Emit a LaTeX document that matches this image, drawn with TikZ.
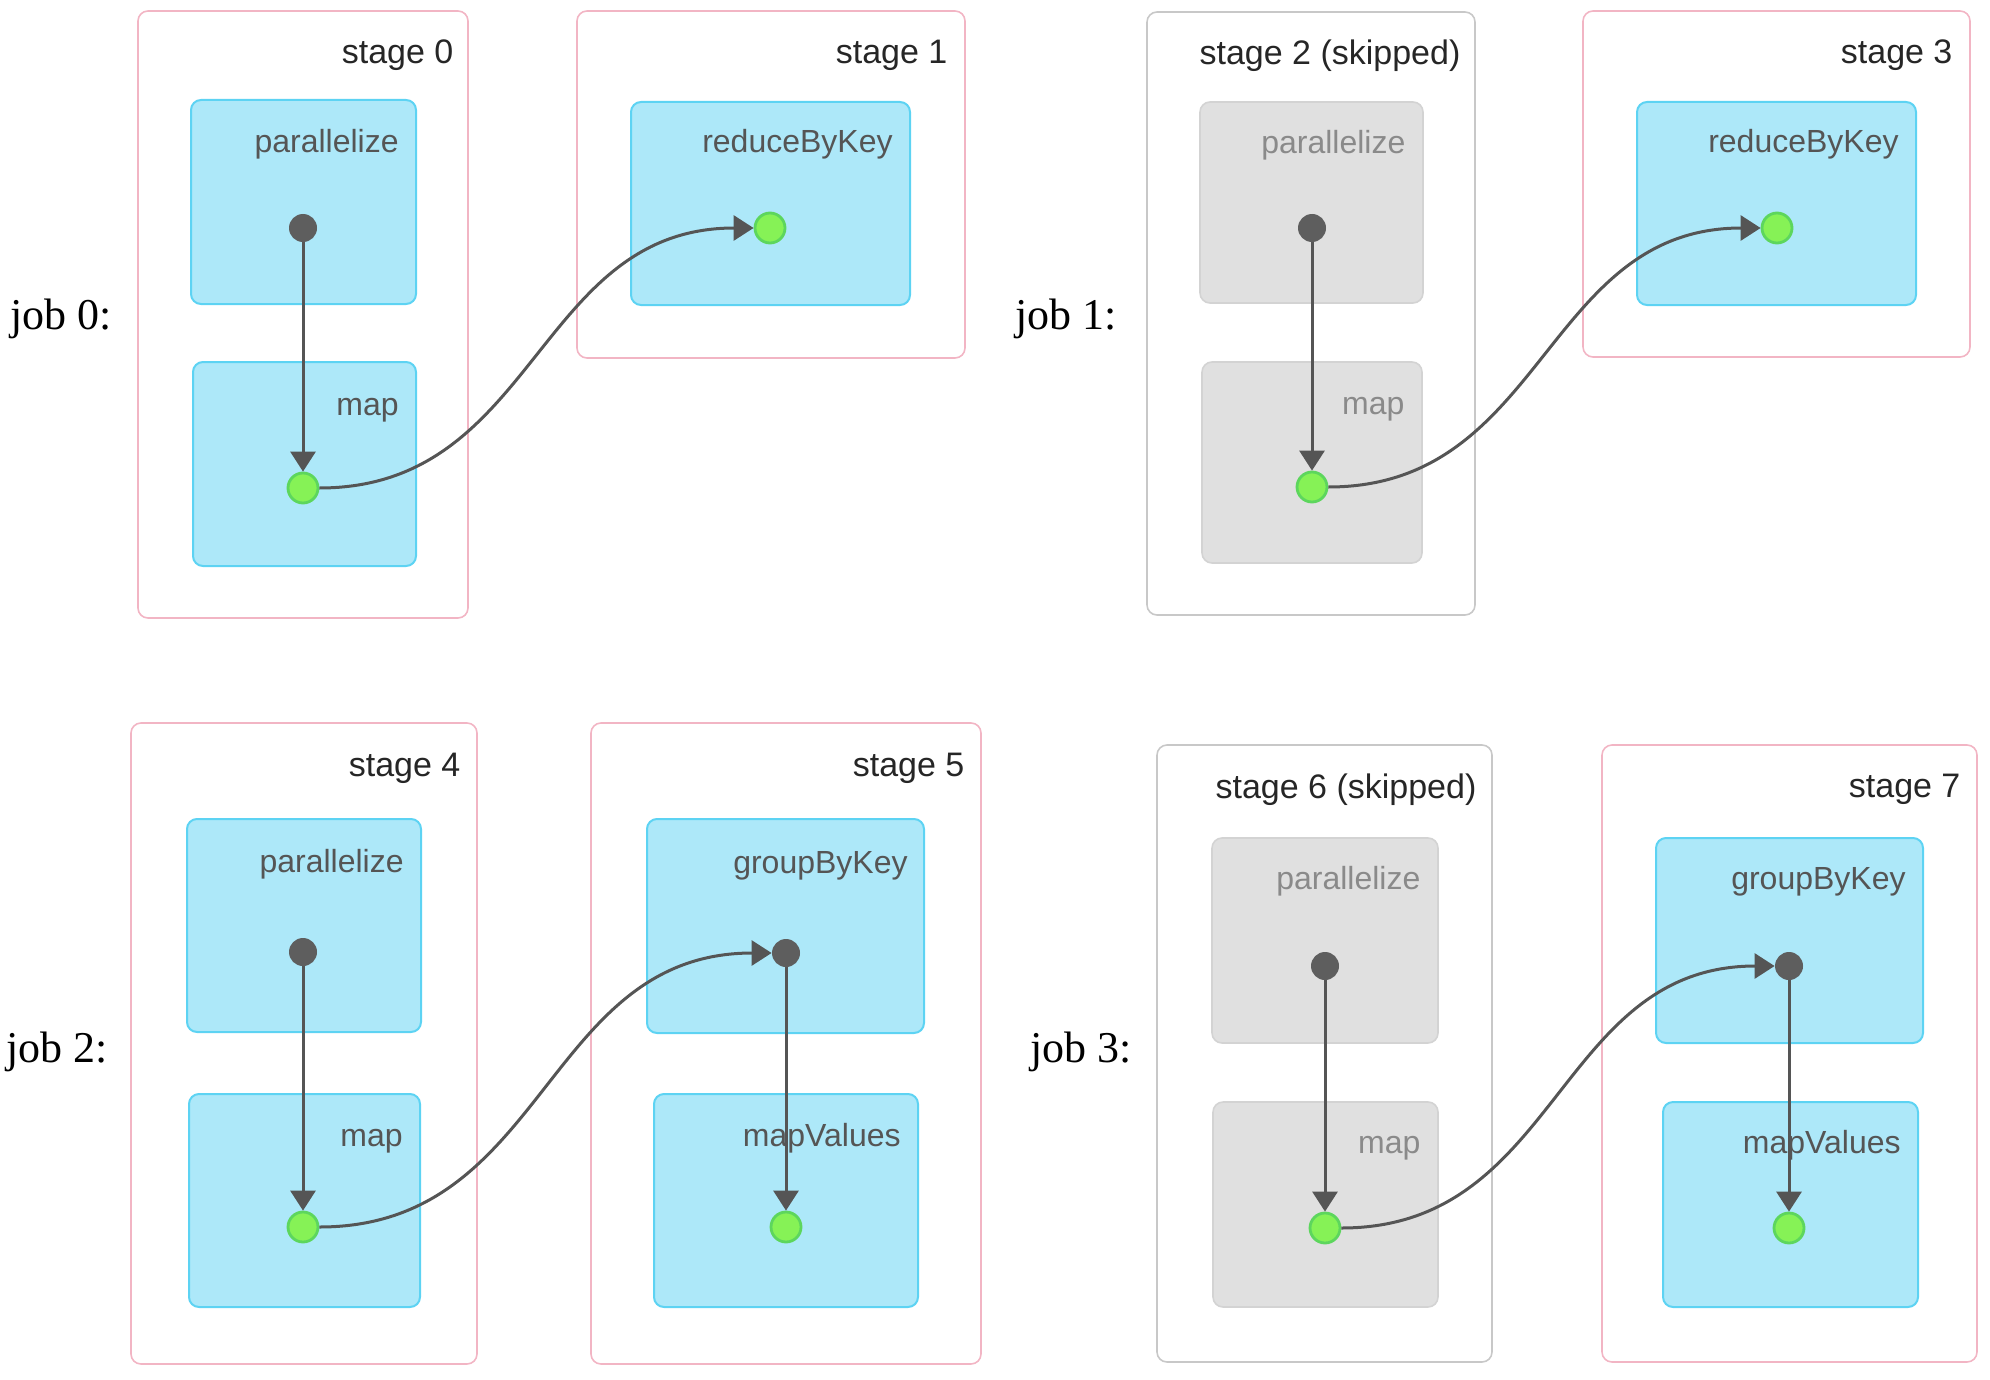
\documentclass[tikz,border=0pt]{standalone}
\usepackage{fontspec}
\setmainfont{Liberation Serif}
\newfontfamily\arialfont{Liberation Sans}
\usetikzlibrary{fit,arrows.meta}
\definecolor{bluefill}{HTML}{ADE8F9}
\definecolor{blueborder}{HTML}{5DD3F3}
\definecolor{grayfill}{HTML}{E0E0E0}
\definecolor{grayborder}{HTML}{D3D3D3}
\definecolor{stagepink}{HTML}{F2B5C4}
\definecolor{skipgray}{HTML}{C8C8C8}
\definecolor{dotdark}{HTML}{5E5E5E}
\definecolor{dotgreen}{HTML}{86F256}
\definecolor{dotgreenborder}{HTML}{5DD65D}
\definecolor{edgecol}{HTML}{555555}
\definecolor{boxtext}{HTML}{555555}
\definecolor{skiptext}{HTML}{8A8A8A}
\tikzset{
  stagebox/.style={draw=stagepink, line width=0.8pt, rounded corners=5pt, inner sep=0pt},
  skipstage/.style={draw=skipgray, line width=0.8pt, rounded corners=5pt, inner sep=0pt},
  opbox/.style={draw=blueborder, fill=bluefill, line width=1pt, rounded corners=5pt, inner sep=0pt},
  skipbox/.style={draw=grayborder, fill=grayfill, line width=0.8pt, rounded corners=5pt, inner sep=0pt},
  stlabel/.style={font=\arialfont\fontsize{17}{20}\selectfont, text=black!85, anchor=base east, inner sep=0pt},
  oplabel/.style={font=\arialfont\fontsize{16}{19}\selectfont, text=boxtext, anchor=base east, inner sep=0pt},
  skiplabel/.style={font=\arialfont\fontsize{16}{19}\selectfont, text=skiptext, anchor=base east, inner sep=0pt},
  joblabel/.style={font=\fontsize{22}{26}\selectfont, anchor=west, inner sep=0pt},
  darkdot/.style={circle, fill=dotdark, minimum size=14pt, inner sep=0pt},
  greendot/.style={circle, fill=dotgreen, draw=dotgreenborder, line width=1.4pt, minimum size=15pt, inner sep=0pt},
  edge/.style={draw=edgecol, line width=1.5pt, -{Triangle[length=10pt,width=12.5pt]}},
}
\begin{document}
\begin{tikzpicture}[x=0.5pt,y=-0.5pt]
\useasboundingbox (0,0) rectangle (1990,1380);

% ---------- job 0 ----------
\node[joblabel] (j0) at (10,319) {job 0:};
\node[stagebox, fit={(138,11) (468,618)}] (s0) {};
\node[stlabel] (s0l) at ([xshift=-7.5pt,yshift=-26.5pt]s0.north east) {stage 0};
\node[opbox, fit={(191,100) (416,304)}] (b0a) {};
\node[oplabel] (b0al) at ([xshift=-9pt,yshift=-27pt]b0a.north east) {parallelize};
\node[opbox, fit={(193,362) (416,566)}] (b0b) {};
\node[oplabel] (b0bl) at ([xshift=-9pt,yshift=-27pt]b0b.north east) {map};
\node[stagebox, fit={(577,11) (965,358)}] (s1) {};
\node[stlabel] (s1l) at ([xshift=-9pt,yshift=-26.5pt]s1.north east) {stage 1};
\node[opbox, fit={(631,102) (910,305)}] (b1a) {};
\node[oplabel] (b1al) at ([xshift=-9pt,yshift=-26pt]b1a.north east) {reduceByKey};

% ---------- job 1 ----------
\node[joblabel] (j1) at (1015,319) {job 1:};
\node[skipstage, fit={(1147,12) (1475,615)}] (s2) {};
\node[stlabel] (s2l) at ([xshift=-7.5pt,yshift=-26.5pt]s2.north east) {stage 2 (skipped)};
\node[skipbox, fit={(1200,102) (1423,303)}] (b2a) {};
\node[skiplabel] (b2al) at ([xshift=-9pt,yshift=-26pt]b2a.north east) {parallelize};
\node[skipbox, fit={(1202,362) (1422,563)}] (b2b) {};
\node[skiplabel] (b2bl) at ([xshift=-9pt,yshift=-26.5pt]b2b.north east) {map};
\node[stagebox, fit={(1583,11) (1970,357)}] (s3) {};
\node[stlabel] (s3l) at ([xshift=-9pt,yshift=-26.5pt]s3.north east) {stage 3};
\node[opbox, fit={(1637,102) (1916,305)}] (b3a) {};
\node[oplabel] (b3al) at ([xshift=-9pt,yshift=-26pt]b3a.north east) {reduceByKey};

% ---------- job 2 ----------
\node[joblabel] (j2) at (6,1052) {job 2:};
\node[stagebox, fit={(131,723) (477,1364)}] (s4) {};
\node[stlabel] (s4l) at ([xshift=-8.5pt,yshift=-27pt]s4.north east) {stage 4};
\node[opbox, fit={(187,819) (421,1032)}] (b4a) {};
\node[oplabel] (b4al) at ([xshift=-9pt,yshift=-27pt]b4a.north east) {parallelize};
\node[opbox, fit={(189,1094) (420,1307)}] (b4b) {};
\node[oplabel] (b4bl) at ([xshift=-9pt,yshift=-26.5pt]b4b.north east) {map};
\node[stagebox, fit={(591,723) (981,1364)}] (s5) {};
\node[stlabel] (s5l) at ([xshift=-8.5pt,yshift=-27pt]s5.north east) {stage 5};
\node[opbox, fit={(647,819) (924,1033)}] (b5a) {};
\node[oplabel] (b5al) at ([xshift=-8.5pt,yshift=-27.5pt]b5a.north east) {groupByKey};
\node[opbox, fit={(654,1094) (918,1307)}] (b5b) {};
\node[oplabel] (b5bl) at ([xshift=-9pt,yshift=-26.5pt]b5b.north east) {mapValues};

% ---------- job 3 ----------
\node[joblabel] (j3) at (1030,1052) {job 3:};
\node[skipstage, fit={(1157,745) (1492,1362)}] (s6) {};
\node[stlabel] (s6l) at ([xshift=-8pt,yshift=-27pt]s6.north east) {stage 6 (skipped)};
\node[skipbox, fit={(1212,838) (1438,1043)}] (b6a) {};
\node[skiplabel] (b6al) at ([xshift=-9pt,yshift=-26pt]b6a.north east) {parallelize};
\node[skipbox, fit={(1213,1102) (1438,1307)}] (b6b) {};
\node[skiplabel] (b6bl) at ([xshift=-9pt,yshift=-26pt]b6b.north east) {map};
\node[stagebox, fit={(1602,745) (1977,1362)}] (s7) {};
\node[stlabel] (s7l) at ([xshift=-8.5pt,yshift=-26.5pt]s7.north east) {stage 7};
\node[opbox, fit={(1656,838) (1923,1043)}] (b7a) {};
\node[oplabel] (b7al) at ([xshift=-9pt,yshift=-26pt]b7a.north east) {groupByKey};
\node[opbox, fit={(1663,1102) (1918,1307)}] (b7b) {};
\node[oplabel] (b7bl) at ([xshift=-9pt,yshift=-26pt]b7b.north east) {mapValues};

% ---------- dots ----------
\node[darkdot] (d0) at (303,228) {};
\node[greendot] (g0) at (303,488) {};
\node[greendot] (g1) at (770,228) {};
\node[darkdot] (d2) at (1312,228) {};
\node[greendot] (g2) at (1312,487) {};
\node[greendot] (g3) at (1777,228) {};
\node[darkdot] (d4) at (303,952) {};
\node[greendot] (g4) at (303,1227) {};
\node[darkdot] (d5) at (786,953) {};
\node[greendot] (g5) at (786,1227) {};
\node[darkdot] (d6) at (1325,966) {};
\node[greendot] (g6) at (1325,1228) {};
\node[darkdot] (d7) at (1789,966) {};
\node[greendot] (g7) at (1789,1228) {};

% ---------- edges ----------
\draw[edge] (d0) -- (g0);
\draw[edge] (g0) to[out=0,in=180,looseness=1.1] (g1);
\draw[edge] (d2) -- (g2);
\draw[edge] (g2) to[out=0,in=180,looseness=1.1] (g3);
\draw[edge] (d4) -- (g4);
\draw[edge] (g4) to[out=0,in=180,looseness=1.1] (d5);
\draw[edge] (d5) -- (g5);
\draw[edge] (d6) -- (g6);
\draw[edge] (g6) to[out=0,in=180,looseness=1.1] (d7);
\draw[edge] (d7) -- (g7);
\end{tikzpicture}
\end{document}
